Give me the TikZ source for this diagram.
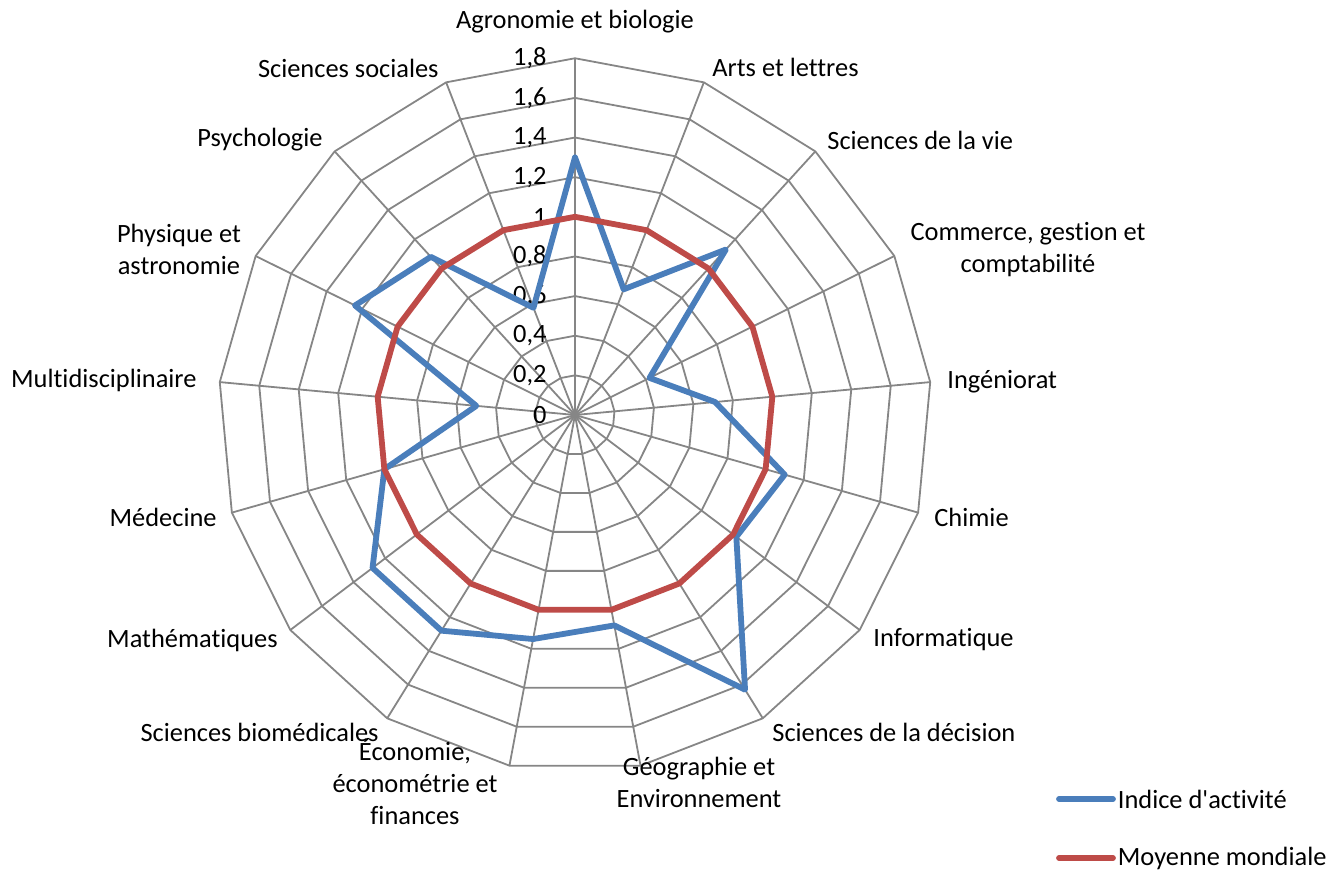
\documentclass[tikz,border=0pt]{standalone}
\usepackage{fontspec}
\setmainfont{Carlito}[Ligatures={NoCommon}]
\usepackage{tikz}
\definecolor{gridgray}{RGB}{134,134,134}
\definecolor{indexblue}{RGB}{74,126,187}
\definecolor{meanred}{RGB}{190,75,72}
\newcommand{\unitr}{198.2}
\newcommand{\stepang}{21.17647}
\tikzset{gridline/.style={draw=gridgray,line width=0.9pt},
         serie/.style={line width=2.9pt,line join=round},
         axislabel/.style={inner sep=0pt,align=center}}

\begin{document}
\begin{tikzpicture}[x=0.5pt,y=0.5pt,font=\fontsize{13.2}{16}\selectfont]
\useasboundingbox (-575,-454) rectangle (755,415);
% grid
\foreach \i in {1,...,9}
  \draw[gridline] (90:\i*0.2*\unitr) \foreach \k in {1,...,16} { -- (90-\k*\stepang:\i*0.2*\unitr) } -- cycle;
\foreach \k in {0,...,16}
  \draw[gridline] (0,0) -- (90-\k*\stepang:1.8*\unitr);
\foreach \i/\itext in {0/0,1/{0,2},2/{0,4},3/{0,6},4/{0,8},5/1,6/{1,2},7/{1,4},8/{1,6},9/{1,8}}
  \node[anchor=east,inner sep=0pt] (tick\i) at (-28,\i*0.2*\unitr) {\itext};
% series
\foreach \v [count=\k from 0] in {1.30,0.68,1.13,0.42,0.71,1.10,1.02,1.63,1.08,1.15,1.28,1.28,1.00,0.50,1.24,1.08,0.58}
  \coordinate (b\k) at (90-\k*\stepang:\v*\unitr);
\draw[serie,indexblue] (b0) \foreach \k in {1,...,16} { -- (b\k) } -- cycle;
\draw[serie,meanred] (90:\unitr) \foreach \k in {1,...,16} { -- (90-\k*\stepang:\unitr) } -- cycle;
% labels
\foreach \n/\a/\x/\y/\t in {
    agro/center/0/393/{Agronomie et biologie},
    arts/west/137/348/{Arts et lettres},
    vie/west/252/275/{Sciences de la vie},
    comm/center/453/165.5/{Commerce, gestion et\\comptabilité},
    inge/west/372/33/{Ingéniorat},
    chim/west/359/-102/{Chimie},
    info/west/298/-225/{Informatique},
    deci/west/197/-317/{Sciences de la décision},
    geo/center/124/-367.5/{Géographie et\\Environnement},
    eco/center/-160/-366.7/{Économie,\\économétrie et\\finances},
    biom/east/-196/-317/{Sciences biomédicales},
    math/east/-297/-225/{Mathématiques},
    med/east/-358/-102/{Médecine},
    multi/east/-378/35/{Multidisciplinaire},
    phys/center/-396/165.5/{Physique et\\astronomie},
    psy/east/-252/275/{Psychologie},
    soc/east/-136/347/{Sciences sociales}}
  \node[axislabel,anchor=\a] (\n) at (\x,\y) {\t};
% legend
\coordinate (lb1) at (484,-384);
\coordinate (lb2) at (538,-384);
\coordinate (lr1) at (484,-443);
\coordinate (lr2) at (538,-443);
\draw[serie,indexblue,line cap=round] (lb1) -- (lb2) node[right,inner sep=1pt,text=black] (legblue) {Indice d\textquotesingle activité};
\draw[serie,meanred,line cap=round] (lr1) -- (lr2) node[right,inner sep=1pt,text=black] (legred) {Moyenne mondiale};
\end{tikzpicture}
\end{document}
